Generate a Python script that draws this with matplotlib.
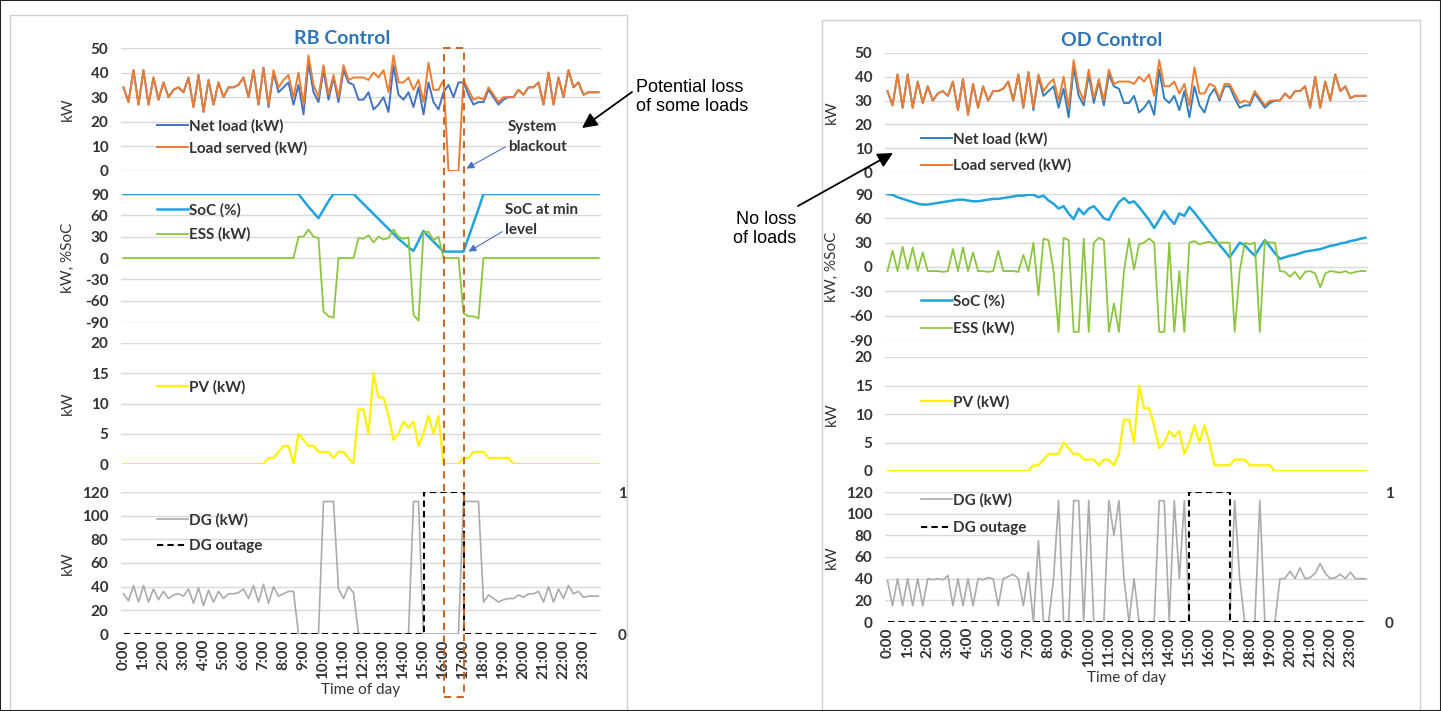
import numpy as np
import matplotlib.pyplot as plt
from matplotlib.patches import Rectangle

plt.rcParams['font.family'] = ['Lato', 'DejaVu Sans']
plt.rcParams['font.weight'] = 'bold'
plt.rcParams['axes.unicode_minus'] = False

# 15-min steps over one day (96 points)
hours = [str(h) + ':00' for h in range(24)]

load = [34, 28, 41, 27, 41, 27, 38, 29, 36, 30,
        33, 34, 32, 38, 26, 39, 24, 37, 27, 36,
        30, 34, 34, 35, 38, 30, 41, 27, 42, 27,
        41, 34, 37, 39, 30, 40, 27, 47, 35, 30,
        43, 31, 39, 30, 43, 37, 38, 38, 38, 37,
        40, 38, 41, 32, 47, 36, 36, 38, 33, 37,
        28, 44, 33, 33, 37, 36, 31, 37, 37, 33,
        29, 30, 29, 34, 31, 28, 30, 30, 30, 33,
        31, 34, 34, 36, 27, 40, 27, 38, 30, 41,
        34, 36, 31, 32, 32, 32]

pv_od = [0] * 29 + [1, 1, 2, 3, 3, 3, 5, 4, 3, 3,
                    2, 2, 2, 1, 2, 2, 1, 3, 9, 9,
                    5, 15, 11, 11, 8, 4, 5, 7, 6, 7,
                    3, 5, 8, 5, 8, 5, 1, 1, 1, 1,
                    2, 2, 2, 1, 1, 1, 1, 1] + [0] * 19

pv_rb = [0] * 29 + [1, 1, 2, 3, 3, 0, 5, 4, 3, 3,
                    2, 2, 2, 1, 2, 2, 1, 0, 9, 9,
                    5, 15, 11, 11, 8, 4, 5, 7, 6, 7,
                    3, 5, 8, 5, 8, 0, 0, 0, 0, 1,
                    1, 2, 2, 2, 1, 1, 1, 1, 1] + [0] * 18

# RB control
served_rb = load[:65] + [0, 0, 0] + load[68:]

soc_rb = [90] * 36 + [81, 72, 64, 56, 68, 80, 90, 90, 90, 90,
                      90, 83, 76, 69, 62, 55, 48, 41, 34, 27,
                      21, 15, 10, 24, 38, 30, 23, 16, 9, 9,
                      9, 9, 9, 29, 49, 69, 90] + [90] * 23

ess_rb = [0] * 35 + [30, 30, 40, 30, 28, -75, -82, -84, 0, 0,
                     0, 0, 28, 27, 32, 22, 30, 26, 28, 40,
                     30, 27, 29, -80, -88, 36, 37, 25, 30, 0,
                     0, 0, 0, -78, -82, -82, -85] + [0] * 24

dg_rb = [34, 28, 41, 27, 41, 27, 38, 29, 36, 30,
         33, 34, 32, 38, 26, 39, 24, 37, 27, 36,
         30, 34, 34, 35, 38, 30, 41, 27, 42, 26,
         40, 32, 34, 36, 36, 0, 0, 0, 0, 0,
         112, 112, 112, 38, 30, 40, 35, 0, 0, 0,
         0, 0, 0, 0, 0, 0, 0, 0, 112, 112,
         0, 0, 0, 0, 0, 0, 0, 0, 112, 112,
         112, 112, 27, 33, 30, 27, 29, 30, 30, 33,
         31, 34, 34, 36, 27, 40, 27, 38, 30, 41,
         34, 36, 31, 32, 32, 32]

outage = [0] * 60 + [1] * 8 + [0] * 28

# OD control
soc_od = [90, 89, 86, 84, 82, 80, 78, 77, 77, 78,
          79, 80, 81, 82, 83, 83, 82, 81, 81, 82,
          83, 84, 84, 85, 86, 87, 88, 88, 89, 89,
          86, 88, 82, 78, 72, 75, 66, 59, 72, 65,
          72, 75, 68, 60, 58, 70, 80, 85, 79, 81,
          74, 66, 58, 48, 58, 69, 60, 53, 66, 63,
          74, 67, 59, 51, 43, 35, 27, 20, 12, 21,
          30, 27, 20, 14, 24, 33, 25, 17, 10, 12,
          14, 15, 17, 19, 20, 21, 22, 24, 26, 27,
          29, 30, 32, 33, 35, 36]

ess_od = [-5, 20, -5, 25, -3, 24, -5, 18, -5, -5,
          -5, -6, -5, 22, -5, 24, -5, 18, -5, -5,
          -6, -5, 20, -5, -5, -5, -6, 15, -5, 30,
          -35, 35, 33, -5, -80, 36, 33, -80, -80, 35,
          -80, 30, 36, 33, -80, -45, -80, -5, 35, -3,
          28, 30, 35, 30, -80, -80, 30, -80, -5, -80,
          30, 32, 28, 30, 31, 29, 30, 30, 30, -80,
          -5, 30, 28, 30, -80, 32, 30, 30, -5, -6,
          -12, -6, -15, -6, -5, -8, -25, -8, -5, -6,
          -7, -5, -8, -6, -5, -5]

dg_od = [38, 15, 40, 15, 40, 15, 40, 15, 40, 39,
         40, 39, 43, 15, 40, 15, 40, 15, 40, 39,
         41, 40, 15, 40, 42, 44, 40, 15, 46, 0,
         75, 0, 0, 40, 112, 0, 0, 112, 112, 0,
         112, 0, 0, 0, 112, 80, 112, 40, 0, 40,
         0, 0, 0, 0, 112, 112, 0, 112, 40, 112,
         0, 0, 0, 0, 0, 0, 0, 0, 0, 112,
         40, 0, 0, 0, 112, 0, 0, 0, 40, 40,
         47, 40, 50, 40, 41, 45, 54, 45, 40, 41,
         44, 40, 46, 40, 40, 40]

blackout = [64, 68]

x = np.arange(len(load))
net_load = np.array(load) - np.array(pv_od)

W, H = 1441, 711
fig = plt.figure(figsize=(W / 100, H / 100), dpi=100)


def fbox(l, t, r, b):
    return [l / W, 1 - b / H, (r - l) / W, (b - t) / H]


def fpt(px, py):
    return (px / W, 1 - py / H)


TXT = '#333333'
GRID = '#D9D9D9'


def style(ax, lim, ticks, bottom=False):
    ax.set_xlim(-0.5, 95.5)
    ax.set_ylim(*lim)
    ax.set_yticks(ticks)
    for s in ax.spines.values():
        s.set_visible(False)
    ax.grid(axis='y', color=GRID, lw=1)
    ax.set_axisbelow(True)
    ax.patch.set_alpha(0)
    ax.tick_params(axis='y', length=0, pad=9, labelsize=11, labelcolor=TXT)
    if bottom:
        ax.set_xticks(x[::4])
        ax.set_xticklabels(hours, rotation=90)
        ax.tick_params(axis='x', length=0, pad=4, labelsize=11, labelcolor=TXT)
    else:
        ax.set_xticks([])


def legend(ax, handles, labels, px, py, spacing):
    ax.legend(handles, labels, loc='upper left', bbox_to_anchor=fpt(px, py),
              bbox_transform=fig.transFigure, frameon=False, handlelength=2.0,
              handletextpad=0.1, borderpad=0, borderaxespad=0,
              labelspacing=spacing, fontsize=11, labelcolor=TXT)


def panel(lx, rx, rows, title, tx, ty, net_c, served, soc, ess, pv, dg, leg):
    ax1 = fig.add_axes(fbox(lx, rows[0][0], rx, rows[0][1]))
    ax2 = fig.add_axes(fbox(lx, rows[1][0], rx, rows[1][1]))
    ax3 = fig.add_axes(fbox(lx, rows[2][0], rx, rows[2][1]))
    ax4 = fig.add_axes(fbox(lx, rows[3][0], rx, rows[3][1]))
    style(ax1, (0, 50), range(0, 51, 10))
    style(ax2, (-90, 90), range(-90, 91, 30))
    style(ax3, (0, 20), range(0, 21, 5))
    style(ax4, (0, 120), range(0, 121, 20), bottom=True)

    l1, = ax1.plot(x, net_load, color=net_c, lw=1.4)
    l2, = ax1.plot(x, served, color='#ED7D31', lw=1.4)
    l3, = ax2.plot(x, soc, color='#23A3DD', lw=1.8)
    l4, = ax2.plot(x, ess, color='#8CC63E', lw=1.3)
    l5, = ax3.plot(x, pv, color='#FFF200', lw=1.6)
    l6, = ax4.plot(x, dg, color='#ABABAB', lw=1.2)
    ax5 = ax4.twinx()
    ax5.set_ylim(0, 1)
    ax5.set_yticks([0, 1])
    for s in ax5.spines.values():
        s.set_visible(False)
    ax5.tick_params(axis='y', length=0, pad=12, labelsize=11, labelcolor=TXT)
    l7, = ax5.plot(x, outage, color='black', lw=1.5, ls=(0, (3, 2)),
                   drawstyle='steps-post')

    ax1.set_ylabel('kW', fontsize=11, color=TXT)
    ax2.set_ylabel('kW, %SoC', fontsize=11, color=TXT)
    ax3.set_ylabel('kW', fontsize=11, color=TXT)
    ax4.set_ylabel('kW', fontsize=11, color=TXT)
    for a in (ax1, ax2, ax3, ax4):
        a.yaxis.set_label_coords((lx - 46) / W, 0, transform=fig.transFigure)
        a.yaxis.label.set_y((a.get_position().y0 + a.get_position().y1) / 2)
    ax4.set_xlabel('Time of day', fontsize=11, color=TXT, labelpad=3)

    fig.text(*fpt(tx, ty), title, ha='center', va='center', fontsize=14,
             color='#2E75B6')

    legend(ax1, [l1, l2], ['Net load (kW)', 'Load served (kW)'], lx + 36, leg[0][0], leg[0][1])
    legend(ax2, [l3, l4], ['SoC (%)', 'ESS (kW)'], lx + 36, leg[1][0], leg[1][1])
    legend(ax3, [l5], ['PV (kW)'], lx + 36, leg[2][0], leg[2][1])
    legend(ax4, [l6, l7], ['DG (kW)', 'DG outage'], lx + 36, leg[3][0], leg[3][1])
    return ax1, ax2, ax3, ax4


rows_rb = [(48, 171), (194, 322), (343, 464), (492, 634)]
rows_od = [(53, 172), (194, 340), (357, 471), (492, 622)]

a1, a2, a3, a4 = panel(121, 601, rows_rb, 'RB Control', 342, 38, '#4472C4',
                       served_rb, soc_rb, ess_rb, pv_rb, dg_rb,
                       ((119, 0.5), (203, 0.65), (380, 0.5), (513, 0.78)))
b1, b2, b3, b4 = panel(885, 1368, rows_od, 'OD Control', 1112, 40, '#2F7FC1',
                       load, soc_od, ess_od, pv_od, dg_od,
                       ((132, 0.78), (294, 0.85), (395, 0.5), (493, 0.9)))

# blackout window box on the RB side
inv = fig.transFigure.inverted()
x0 = inv.transform(a1.transData.transform((blackout[0], 0)))[0]
x1 = inv.transform(a1.transData.transform((blackout[1], 0)))[0]
fig.add_artist(Rectangle((x0, 1 - 697 / H), x1 - x0, (697 - 48) / H,
                         transform=fig.transFigure, fill=False,
                         ec='#C55A11', lw=1.3, ls=(0, (4, 3))))

# callouts
a1.annotate('System\nblackout', xy=(68.6, 1), xycoords='data',
            xytext=fpt(508, 137), textcoords='figure fraction',
            ha='left', va='center', fontsize=11, color=TXT, linespacing=1.5,
            arrowprops=dict(arrowstyle='-|>', color='#4472C4', lw=0.8,
                            shrinkA=0, shrinkB=0, relpos=(0, 0.25)))
a2.annotate('SoC at min\nlevel', xy=(69, 9), xycoords='data',
            xytext=fpt(505, 220), textcoords='figure fraction',
            ha='left', va='center', fontsize=11, color=TXT, linespacing=1.5,
            arrowprops=dict(arrowstyle='-|>', color='#4472C4', lw=0.8,
                            shrinkA=0, shrinkB=0, relpos=(0, 0.2)))

fig.text(*fpt(636, 97), 'Potential loss\nof some loads', ha='left', va='center',
         fontsize=13, fontweight='normal', family=['Liberation Sans', 'DejaVu Sans'],
         color='black', linespacing=1.2)
fig.add_artist(plt.Annotation('', xy=fpt(582, 128), xycoords='figure fraction',
                              xytext=fpt(632, 92), textcoords='figure fraction',
                              arrowprops=dict(arrowstyle='-|>,head_length=0.9,head_width=0.45',
                                              color='black', lw=1.3, shrinkA=0, shrinkB=0)))
fig.text(*fpt(796, 229), 'No loss\nof loads', ha='right', va='center',
         fontsize=13, fontweight='normal', family=['Liberation Sans', 'DejaVu Sans'],
         color='black', linespacing=1.2)
fig.add_artist(plt.Annotation('', xy=fpt(893, 153), xycoords='figure fraction',
                              xytext=fpt(798, 206), textcoords='figure fraction',
                              arrowprops=dict(arrowstyle='-|>,head_length=0.9,head_width=0.45',
                                              color='black', lw=1.3, shrinkA=0, shrinkB=0)))

# chart frames
fig.add_artist(Rectangle(fpt(10, 711), 617 / W, 696 / H, transform=fig.transFigure,
                         fill=False, ec='#D0D0D0', lw=1))
fig.add_artist(Rectangle(fpt(822, 711), 598 / W, 691 / H, transform=fig.transFigure,
                         fill=False, ec='#D0D0D0', lw=1))
fig.add_artist(Rectangle((0, 0), 1, 1, transform=fig.transFigure,
                         fill=False, ec='#222222', lw=1.5))

fig.savefig('out.png', dpi=100)
